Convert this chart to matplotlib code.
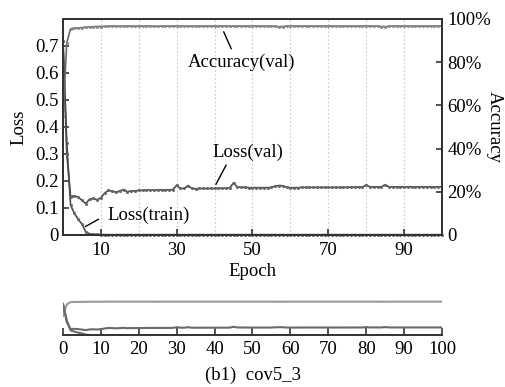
import numpy as np
import matplotlib
matplotlib.use('Agg')
import matplotlib.pyplot as plt
from matplotlib.ticker import FuncFormatter

plt.rcParams['font.family'] = ['Liberation Serif', 'DejaVu Serif']
FS = 13.5
plt.rcParams['font.size'] = FS

epochs = list(range(0, 101))

loss_train = [0.72, 0.34, 0.11, 0.08, 0.058, 0.04, 0.012, 0.004, 0.002, 0.002,
              0.001] + [0.001] * 90

loss_val = [0.72, 0.30, 0.142, 0.145, 0.14, 0.128, 0.116, 0.132, 0.135, 0.13, 0.138,
            0.155, 0.165, 0.162, 0.158, 0.163, 0.168, 0.16, 0.163, 0.163, 0.165,
            0.165, 0.166, 0.166, 0.166, 0.167, 0.167, 0.167, 0.167, 0.168, 0.184,
            0.172, 0.172, 0.183, 0.172, 0.171, 0.172, 0.172, 0.172, 0.172, 0.172,
            0.173, 0.173, 0.173, 0.174, 0.193, 0.177, 0.177, 0.176, 0.175, 0.175,
            0.175, 0.175, 0.175, 0.175, 0.176, 0.181, 0.183, 0.182, 0.176, 0.175,
            0.175, 0.175, 0.176, 0.176, 0.176, 0.176, 0.176, 0.176, 0.176, 0.176,
            0.176, 0.176, 0.176, 0.176, 0.176, 0.177, 0.177, 0.177, 0.177, 0.185,
            0.178, 0.178, 0.178, 0.178, 0.186, 0.178, 0.178, 0.178, 0.178, 0.178,
            0.178, 0.178, 0.178, 0.178, 0.178, 0.178, 0.178, 0.178, 0.178, 0.178]

acc_val = [0.55, 0.89, 0.955, 0.957, 0.958, 0.96, 0.962, 0.963, 0.964, 0.965, 0.965,
           0.966, 0.966, 0.967, 0.967, 0.966, 0.967, 0.967, 0.967, 0.966, 0.967,
           0.967, 0.967, 0.967, 0.966, 0.966, 0.967, 0.967, 0.967, 0.967, 0.967,
           0.967, 0.967, 0.966, 0.967, 0.967, 0.967, 0.967, 0.967, 0.967, 0.967,
           0.967, 0.967, 0.967, 0.967, 0.967, 0.967, 0.967, 0.967, 0.967, 0.967,
           0.967, 0.967, 0.967, 0.967, 0.967, 0.966, 0.964, 0.965, 0.967, 0.967,
           0.967, 0.967, 0.967, 0.967, 0.967, 0.967, 0.967, 0.967, 0.967, 0.967,
           0.967, 0.967, 0.967, 0.967, 0.967, 0.967, 0.967, 0.967, 0.967, 0.967,
           0.967, 0.967, 0.967, 0.965, 0.964, 0.966, 0.967, 0.967, 0.967, 0.967,
           0.967, 0.967, 0.967, 0.967, 0.967, 0.967, 0.967, 0.967, 0.967, 0.967]

main_xticks = [10, 30, 50, 70, 90]
grid_x = [10, 20, 30, 40, 50, 60, 70, 80, 90]
loss_ticks = [0, 0.1, 0.2, 0.3, 0.4, 0.5, 0.6, 0.7]
acc_ticks = [0, 0.2, 0.4, 0.6, 0.8, 1.0]
mini_xticks = list(range(0, 101, 10))

LOSS_MAX = 0.8  # left axis range that lines up with 100% on the right

fig = plt.figure(figsize=(5.06, 3.87), dpi=100)
ax = fig.add_axes([0.1245, 0.393, 0.749, 0.558])
ax2 = ax.twinx()

for x in grid_x:
    ax.axvline(x, color='#c8c8c8', lw=0.8, ls=(0, (1.5, 2)), zorder=0)

line_kw = dict(lw=1.2, marker='o', ms=2.2, mec='none')
ax.plot(epochs, loss_train, color='#4a4a4a', mfc='#666666', clip_on=False, **line_kw)
ax.plot(epochs, loss_val, color='#4a4a4a', mfc='#666666', **line_kw)
ax2.plot(epochs, acc_val, color='#6a6a6a', mfc='#888888', **line_kw)

ax.set_xlim(0, 100)
ax.set_ylim(0, LOSS_MAX)
ax2.set_ylim(0, 1.0)
ax.set_xticks(main_xticks)
ax.set_yticks(loss_ticks)
ax2.set_yticks(acc_ticks)
ax.yaxis.set_major_formatter(FuncFormatter(lambda v, p: '0' if v == 0 else '%.1f' % v))
ax2.yaxis.set_major_formatter(FuncFormatter(lambda v, p: '0' if v == 0 else '%d%%' % round(v * 100)))

for a in (ax, ax2):
    for s in a.spines.values():
        s.set_color('#333333')
        s.set_linewidth(1.4)
ax.tick_params(direction='in', length=4, width=1.2, color='#333333', labelsize=FS, pad=5)
ax.tick_params(axis='y', pad=3)
ax2.tick_params(direction='in', length=4, width=1.2, color='#333333', labelsize=FS, pad=4)

ax.set_xlabel('Epoch', fontsize=FS, labelpad=3)
ax.set_ylabel('Loss', fontsize=FS, labelpad=6)
ax2.set_ylabel('Accuracy', fontsize=FS, rotation=270, labelpad=8)

# callouts
ax.text(47.2, 0.639, 'Accuracy(val)', ha='center', va='center', fontsize=FS)
ax.annotate('', xy=(42.1, 0.762), xytext=(44.7, 0.68),
            arrowprops=dict(arrowstyle='-', color='black', lw=1))
ax.text(48.9, 0.305, 'Loss(val)', ha='center', va='center', fontsize=FS)
ax.annotate('', xy=(40.0, 0.178), xytext=(43.4, 0.268),
            arrowprops=dict(arrowstyle='-', color='black', lw=1))
ax.text(22.6, 0.074, 'Loss(train)', ha='center', va='center', fontsize=FS)
ax.annotate('', xy=(5.3, 0.026), xytext=(10.0, 0.063),
            arrowprops=dict(arrowstyle='-', color='black', lw=1))

# overview strip
axm = fig.add_axes([0.1245, 0.134, 0.749, 0.094])
axm.plot(epochs, [a * LOSS_MAX for a in acc_val], color='#9a9a9a', lw=1.5)
axm.plot(epochs, loss_val, color='#6a6a6a', lw=1.5)
axm.plot(epochs, loss_train, color='#6a6a6a', lw=1.5)
axm.set_xlim(0, 100)
axm.set_ylim(0, 0.84)
axm.set_xticks(mini_xticks)
axm.set_yticks([])
for k in ('top', 'right', 'left'):
    axm.spines[k].set_visible(False)
axm.spines['bottom'].set_color('#333333')
axm.spines['bottom'].set_linewidth(1.4)
axm.tick_params(axis='x', direction='in', length=5, width=1.2, color='#333333', labelsize=FS, pad=4)
axm.patch.set_alpha(0)

fig.text(0.5, 1 - 375 / 387, '(b1)  cov5_3', ha='center', va='center', fontsize=FS)

fig.savefig('out.png', dpi=100)
